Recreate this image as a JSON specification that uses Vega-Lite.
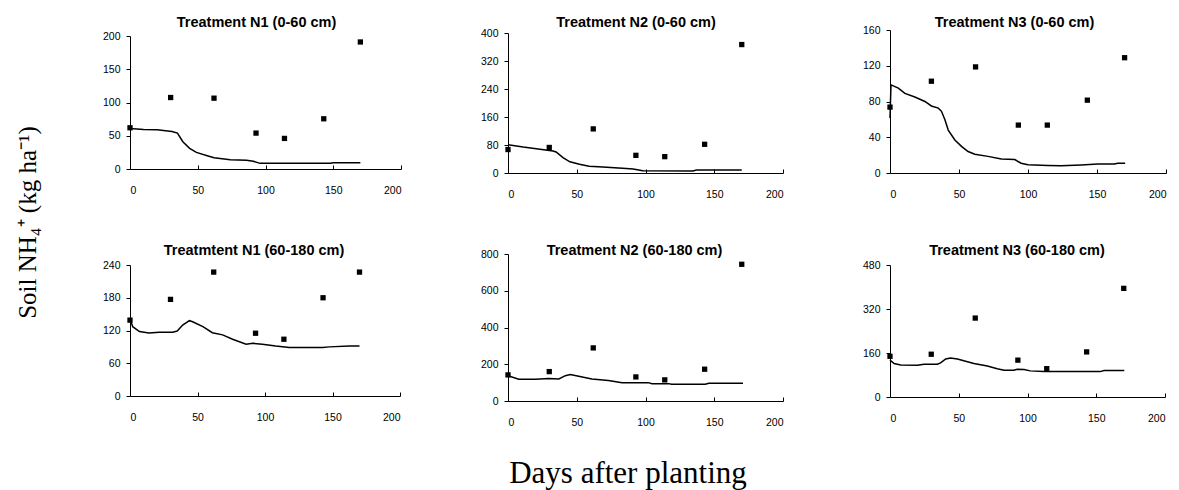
{
  "$schema": "https://vega.github.io/schema/vega-lite/v6.json",
  "autosize": "none",
  "padding": {"left": 130, "top": 30, "right": 1049, "bottom": 460},
  "background": "white",
  "config": {
    "view": {"stroke": null},
    "axis": {"grid": false, "domainColor": "#000", "tickColor": "#000", "labelFont": "Liberation Sans", "labelFontSize": 10.5, "labelColor": "#000", "tickSize": 4, "labelPadding": 6, "domainWidth": 1, "tickWidth": 1},
    "axisX": {"tickSize": -4, "labelPadding": 20},
    "title": {"font": "Liberation Sans", "fontSize": 14.5, "fontWeight": "bold", "color": "#000", "frame": "group", "baseline": "alphabetic"}
  },
  "datasets": {
    "obs": [
      {"p": "N1a", "d": 0, "v": 62}, {"p": "N1a", "d": 30, "v": 107.5}, {"p": "N1a", "d": 62, "v": 106.5}, {"p": "N1a", "d": 93, "v": 54}, {"p": "N1a", "d": 114, "v": 46}, {"p": "N1a", "d": 143, "v": 75.5}, {"p": "N1a", "d": 170, "v": 191},
      {"p": "N2a", "d": 0, "v": 67}, {"p": "N2a", "d": 30, "v": 73}, {"p": "N2a", "d": 62, "v": 126}, {"p": "N2a", "d": 93, "v": 50.5}, {"p": "N2a", "d": 114, "v": 46.7}, {"p": "N2a", "d": 143, "v": 82}, {"p": "N2a", "d": 170, "v": 367},
      {"p": "N3a", "d": 0, "v": 73.7}, {"p": "N3a", "d": 30, "v": 102.7}, {"p": "N3a", "d": 62, "v": 118.7}, {"p": "N3a", "d": 93, "v": 53.6}, {"p": "N3a", "d": 114, "v": 53.6}, {"p": "N3a", "d": 143, "v": 81.5}, {"p": "N3a", "d": 170, "v": 129},
      {"p": "N1b", "d": 0, "v": 139}, {"p": "N1b", "d": 30, "v": 177}, {"p": "N1b", "d": 62, "v": 227}, {"p": "N1b", "d": 93, "v": 115}, {"p": "N1b", "d": 114, "v": 104}, {"p": "N1b", "d": 143, "v": 180}, {"p": "N1b", "d": 170, "v": 227},
      {"p": "N2b", "d": 0, "v": 142}, {"p": "N2b", "d": 30, "v": 160}, {"p": "N2b", "d": 62, "v": 289}, {"p": "N2b", "d": 93, "v": 131}, {"p": "N2b", "d": 114, "v": 115}, {"p": "N2b", "d": 143, "v": 173}, {"p": "N2b", "d": 170, "v": 744},
      {"p": "N3b", "d": 0, "v": 148}, {"p": "N3b", "d": 30, "v": 155.5}, {"p": "N3b", "d": 62, "v": 287}, {"p": "N3b", "d": 93, "v": 134}, {"p": "N3b", "d": 114, "v": 103}, {"p": "N3b", "d": 143, "v": 164}, {"p": "N3b", "d": 170, "v": 395}
    ],
    "sim": [
      {"p": "N1a", "d": 0, "v": 61}, {"p": "N1a", "d": 10, "v": 59.5}, {"p": "N1a", "d": 20, "v": 59}, {"p": "N1a", "d": 31, "v": 56.5}, {"p": "N1a", "d": 35, "v": 54}, {"p": "N1a", "d": 39, "v": 41}, {"p": "N1a", "d": 44, "v": 31}, {"p": "N1a", "d": 49, "v": 25}, {"p": "N1a", "d": 57, "v": 20}, {"p": "N1a", "d": 62, "v": 17}, {"p": "N1a", "d": 74, "v": 14}, {"p": "N1a", "d": 86, "v": 13}, {"p": "N1a", "d": 91, "v": 11.5}, {"p": "N1a", "d": 96, "v": 8.5}, {"p": "N1a", "d": 148, "v": 8.5}, {"p": "N1a", "d": 150, "v": 9.5}, {"p": "N1a", "d": 170, "v": 9.5},
      {"p": "N2a", "d": 0, "v": 81}, {"p": "N2a", "d": 11, "v": 74}, {"p": "N2a", "d": 20.6, "v": 69}, {"p": "N2a", "d": 32.7, "v": 63}, {"p": "N2a", "d": 35, "v": 60}, {"p": "N2a", "d": 40, "v": 44}, {"p": "N2a", "d": 45, "v": 32}, {"p": "N2a", "d": 52, "v": 25}, {"p": "N2a", "d": 59, "v": 19}, {"p": "N2a", "d": 69, "v": 17}, {"p": "N2a", "d": 86, "v": 13}, {"p": "N2a", "d": 91, "v": 11.4}, {"p": "N2a", "d": 98, "v": 6.7}, {"p": "N2a", "d": 134.5, "v": 5.7}, {"p": "N2a", "d": 137, "v": 8.6}, {"p": "N2a", "d": 170, "v": 8.6},
      {"p": "N3a", "d": 0, "v": 61.4}, {"p": "N3a", "d": 0.7, "v": 98.6}, {"p": "N3a", "d": 2.4, "v": 97.5}, {"p": "N3a", "d": 6, "v": 95}, {"p": "N3a", "d": 10.8, "v": 89}, {"p": "N3a", "d": 18, "v": 85}, {"p": "N3a", "d": 25.3, "v": 80}, {"p": "N3a", "d": 30, "v": 75}, {"p": "N3a", "d": 35, "v": 72.6}, {"p": "N3a", "d": 37.3, "v": 69}, {"p": "N3a", "d": 39.8, "v": 59.5}, {"p": "N3a", "d": 42.2, "v": 48}, {"p": "N3a", "d": 47, "v": 37}, {"p": "N3a", "d": 51.8, "v": 29.8}, {"p": "N3a", "d": 56.6, "v": 24}, {"p": "N3a", "d": 61.4, "v": 21}, {"p": "N3a", "d": 71, "v": 18.6}, {"p": "N3a", "d": 80.7, "v": 15.6}, {"p": "N3a", "d": 90.4, "v": 15}, {"p": "N3a", "d": 95, "v": 11}, {"p": "N3a", "d": 100, "v": 9.3}, {"p": "N3a", "d": 114.5, "v": 8.5}, {"p": "N3a", "d": 124, "v": 8}, {"p": "N3a", "d": 138.5, "v": 9}, {"p": "N3a", "d": 150.6, "v": 10}, {"p": "N3a", "d": 162.6, "v": 10}, {"p": "N3a", "d": 165, "v": 11}, {"p": "N3a", "d": 170.4, "v": 11},
      {"p": "N1b", "d": 0, "v": 142}, {"p": "N1b", "d": 2, "v": 127}, {"p": "N1b", "d": 7, "v": 118}, {"p": "N1b", "d": 14, "v": 115.4}, {"p": "N1b", "d": 21.7, "v": 117}, {"p": "N1b", "d": 31.6, "v": 117}, {"p": "N1b", "d": 35, "v": 119}, {"p": "N1b", "d": 39, "v": 130}, {"p": "N1b", "d": 44, "v": 138}, {"p": "N1b", "d": 46.4, "v": 136}, {"p": "N1b", "d": 54, "v": 127}, {"p": "N1b", "d": 61, "v": 116}, {"p": "N1b", "d": 68.6, "v": 112}, {"p": "N1b", "d": 76, "v": 104}, {"p": "N1b", "d": 86, "v": 95}, {"p": "N1b", "d": 91, "v": 96.5}, {"p": "N1b", "d": 98, "v": 95}, {"p": "N1b", "d": 108, "v": 91.6}, {"p": "N1b", "d": 118, "v": 89}, {"p": "N1b", "d": 142.7, "v": 89}, {"p": "N1b", "d": 147.7, "v": 90}, {"p": "N1b", "d": 162.5, "v": 91.6}, {"p": "N1b", "d": 170, "v": 91.6},
      {"p": "N2b", "d": 0, "v": 138}, {"p": "N2b", "d": 7.8, "v": 118}, {"p": "N2b", "d": 20, "v": 118}, {"p": "N2b", "d": 29.6, "v": 122}, {"p": "N2b", "d": 37, "v": 120}, {"p": "N2b", "d": 41.7, "v": 138}, {"p": "N2b", "d": 45.3, "v": 144}, {"p": "N2b", "d": 51.4, "v": 135}, {"p": "N2b", "d": 61, "v": 120}, {"p": "N2b", "d": 73, "v": 111}, {"p": "N2b", "d": 83, "v": 100}, {"p": "N2b", "d": 102, "v": 100}, {"p": "N2b", "d": 104.7, "v": 94.5}, {"p": "N2b", "d": 116.8, "v": 94.5}, {"p": "N2b", "d": 119, "v": 91}, {"p": "N2b", "d": 143.5, "v": 91}, {"p": "N2b", "d": 146, "v": 96}, {"p": "N2b", "d": 170.9, "v": 96},
      {"p": "N3b", "d": 0, "v": 134}, {"p": "N3b", "d": 3, "v": 121.5}, {"p": "N3b", "d": 7.8, "v": 116.6}, {"p": "N3b", "d": 19.9, "v": 115.4}, {"p": "N3b", "d": 24.7, "v": 119}, {"p": "N3b", "d": 34.4, "v": 119}, {"p": "N3b", "d": 36.8, "v": 124}, {"p": "N3b", "d": 40.5, "v": 138.5}, {"p": "N3b", "d": 44, "v": 142}, {"p": "N3b", "d": 49, "v": 138.5}, {"p": "N3b", "d": 61, "v": 121.5}, {"p": "N3b", "d": 70.8, "v": 113}, {"p": "N3b", "d": 78, "v": 103}, {"p": "N3b", "d": 83, "v": 97}, {"p": "N3b", "d": 90, "v": 97}, {"p": "N3b", "d": 92.6, "v": 101}, {"p": "N3b", "d": 97.5, "v": 99.6}, {"p": "N3b", "d": 102, "v": 95}, {"p": "N3b", "d": 112, "v": 92.3}, {"p": "N3b", "d": 153, "v": 92.3}, {"p": "N3b", "d": 155.6, "v": 96}, {"p": "N3b", "d": 170.4, "v": 96}
    ]
  },
  "columns": 3,
  "bounds": "flush",
  "spacing": {"row": 81, "column": 107},
  "concat": [
    {"width": 271, "height": 139, "title": {"text": "Treatment N1 (0-60 cm)", "offset": -0.5, "dx": -9},
     "encoding": {"x": {"field": "d", "type": "quantitative", "scale": {"domain": [0, 200], "nice": false}, "axis": {"values": [0, 50, 100, 150, 200], "title": null}},
                  "y": {"field": "v", "type": "quantitative", "scale": {"domain": [0, 200], "nice": false, "range": [139, 6]},
                        "axis": {"values": [0, 50, 100, 150, 200], "title": "Soil NH₄⁺ (kg ha⁻¹)", "titleFont": "Liberation Serif", "titleFontSize": 25, "titleFontWeight": "normal", "titleColor": "#000", "titleAngle": 270, "titleAlign": "center", "titleBaseline": "alphabetic", "titleX": -95, "titleY": 192}}},
     "layer": [
       {"data": {"name": "sim"}, "transform": [{"filter": "datum.p == 'N1a'"}], "mark": {"type": "line", "color": "#000", "strokeWidth": 1.5}},
       {"data": {"name": "obs"}, "transform": [{"filter": "datum.p == 'N1a'"}], "mark": {"type": "square", "color": "#000", "size": 28, "opacity": 1, "filled": true}}
     ]},
    {"width": 275, "height": 143, "title": {"text": "Treatment N2 (0-60 cm)", "offset": -2.75, "dx": -9.5},
     "encoding": {"x": {"field": "d", "type": "quantitative", "scale": {"domain": [0, 200], "nice": false}, "axis": {"values": [0, 50, 100, 150, 200], "title": null}},
                  "y": {"field": "v", "type": "quantitative", "scale": {"domain": [0, 400], "nice": false, "range": [143, 3]}, "axis": {"values": [0, 80, 160, 240, 320, 400], "title": null}}},
     "layer": [
       {"data": {"name": "sim"}, "transform": [{"filter": "datum.p == 'N2a'"}], "mark": {"type": "line", "color": "#000", "strokeWidth": 1.5}},
       {"data": {"name": "obs"}, "transform": [{"filter": "datum.p == 'N2a'"}], "mark": {"type": "square", "color": "#000", "size": 28, "opacity": 1, "filled": true}}
     ]},
    {"width": 276, "height": 143, "title": {"text": "Treatment N3 (0-60 cm)", "offset": -5.75, "dx": -13.5},
     "encoding": {"x": {"field": "d", "type": "quantitative", "scale": {"domain": [0, 200], "nice": false}, "axis": {"values": [0, 50, 100, 150, 200], "title": null}},
                  "y": {"field": "v", "type": "quantitative", "scale": {"domain": [0, 160], "nice": false}, "axis": {"values": [0, 40, 80, 120, 160], "title": null}}},
     "layer": [
       {"data": {"name": "sim"}, "transform": [{"filter": "datum.p == 'N3a'"}], "mark": {"type": "line", "color": "#000", "strokeWidth": 1.5}},
       {"data": {"name": "obs"}, "transform": [{"filter": "datum.p == 'N3a'"}], "mark": {"type": "square", "color": "#000", "size": 28, "opacity": 1, "filled": true}}
     ]},
    {"width": 270, "height": 142, "title": {"text": "Treatmtent N1 (60-180 cm)", "offset": -4.5, "dx": -11},
     "encoding": {"x": {"field": "d", "type": "quantitative", "scale": {"domain": [0, 200], "nice": false}, "axis": {"values": [0, 50, 100, 150, 200], "title": null}},
                  "y": {"field": "v", "type": "quantitative", "scale": {"domain": [0, 240], "nice": false, "range": [142, 11]}, "axis": {"values": [0, 60, 120, 180, 240], "title": null}}},
     "layer": [
       {"data": {"name": "sim"}, "transform": [{"filter": "datum.p == 'N1b'"}], "mark": {"type": "line", "color": "#000", "strokeWidth": 1.5}},
       {"data": {"name": "obs"}, "transform": [{"filter": "datum.p == 'N1b'"}], "mark": {"type": "square", "color": "#000", "size": 28, "opacity": 1, "filled": true}}
     ]},
    {"width": 275, "height": 147, "title": {"text": "Treatment N2 (60-180 cm)", "offset": -9.5, "dx": -11},
     "encoding": {"x": {"field": "d", "type": "quantitative", "scale": {"domain": [0, 200], "nice": false},
                        "axis": {"values": [0, 50, 100, 150, 200], "title": "Days after planting", "titleFont": "Liberation Serif", "titleFontSize": 31, "titleFontWeight": "normal", "titleColor": "#000", "titleAlign": "center", "titleBaseline": "alphabetic", "titleX": 119.5, "titleY": 81}},
                  "y": {"field": "v", "type": "quantitative", "scale": {"domain": [0, 800], "nice": false}, "axis": {"values": [0, 200, 400, 600, 800], "title": null}}},
     "layer": [
       {"data": {"name": "sim"}, "transform": [{"filter": "datum.p == 'N2b'"}], "mark": {"type": "line", "color": "#000", "strokeWidth": 1.5}},
       {"data": {"name": "obs"}, "transform": [{"filter": "datum.p == 'N2b'"}], "mark": {"type": "square", "color": "#000", "size": 28, "opacity": 1, "filled": true}}
     ]},
    {"width": 275, "height": 143, "title": {"text": "Treatment N3 (60-180 cm)", "offset": -4.5, "dx": -10.5},
     "encoding": {"x": {"field": "d", "type": "quantitative", "scale": {"domain": [0, 200], "nice": false}, "axis": {"values": [0, 50, 100, 150, 200], "title": null}},
                  "y": {"field": "v", "type": "quantitative", "scale": {"domain": [0, 480], "nice": false, "range": [143, 11]}, "axis": {"values": [0, 160, 320, 480], "title": null}}},
     "layer": [
       {"data": {"name": "sim"}, "transform": [{"filter": "datum.p == 'N3b'"}], "mark": {"type": "line", "color": "#000", "strokeWidth": 1.5}},
       {"data": {"name": "obs"}, "transform": [{"filter": "datum.p == 'N3b'"}], "mark": {"type": "square", "color": "#000", "size": 28, "opacity": 1, "filled": true}}
     ]}
  ]
}
